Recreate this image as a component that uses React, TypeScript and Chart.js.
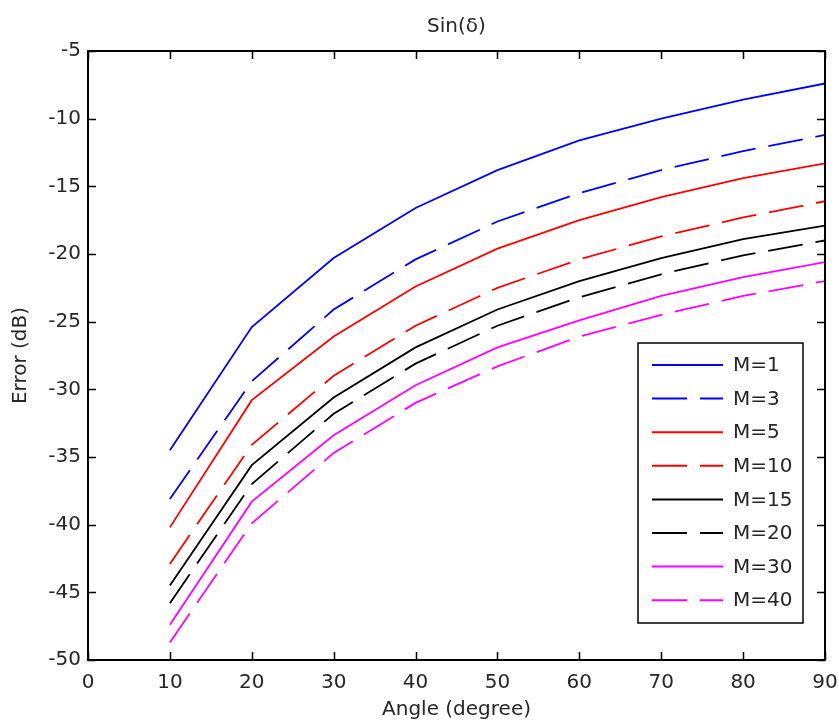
import React, { useEffect, useRef } from "react";
import { Chart, registerables } from "chart.js";

Chart.register(...registerables);

// ---- data ----
const angles = [10, 20, 30, 40, 50, 60, 70, 80, 90];
const m1 = [-34.5, -25.4, -20.3, -16.6, -13.8, -11.6, -10.0, -8.6, -7.4];
const m3 = [-38.1, -29.4, -24.1, -20.4, -17.6, -15.5, -13.8, -12.4, -11.2];
const m5 = [-40.2, -30.8, -26.1, -22.4, -19.6, -17.5, -15.8, -14.4, -13.3];
const m10 = [-42.9, -34.1, -29.0, -25.3, -22.5, -20.4, -18.7, -17.3, -16.1];
const m15 = [-44.5, -35.6, -30.6, -26.9, -24.1, -22.0, -20.3, -18.9, -17.9];
const m20 = [-45.8, -37.0, -31.8, -28.1, -25.3, -23.2, -21.5, -20.1, -19.0];
const m30 = [-47.4, -38.3, -33.4, -29.7, -26.9, -24.9, -23.1, -21.7, -20.6];
const m40 = [-48.7, -39.9, -34.7, -31.0, -28.3, -26.1, -24.5, -23.1, -22.0];

const seriesValues = [m1, m3, m5, m10, m15, m20, m30, m40];
const seriesLabels = ["M=1", "M=3", "M=5", "M=10", "M=15", "M=20", "M=30", "M=40"];
const seriesColors = ["#0000ff", "#0000ff", "#ff0000", "#ff0000", "#000000", "#000000", "#ff00ff", "#ff00ff"];
const seriesDashed = [false, true, false, true, false, true, false, true];

const chartTitle = "Sin(\u03b4)";
const xTitle = "Angle (degree)";
const yTitle = "Error (dB)";
const xMin = 0, xMax = 90, xStep = 10;
const yMin = -50, yMax = -5, yStep = 5;

const FONT = "DejaVu Sans";
const TEXT = "#262626";
const DASH = [35, 13];

const framePlugin = {
  id: "matlabFrame",
  afterDatasetsDraw(chart: any) {
    const { ctx, chartArea: a, scales } = chart;
    const xs = scales.x;
    const ys = scales.y;
    ctx.save();
    ctx.strokeStyle = "#000";
    ctx.lineWidth = 1.5;
    ctx.beginPath();
    const tl = 8;
    xs.ticks.forEach((t: any) => {
      const px = Math.round(xs.getPixelForValue(t.value)) + 0.5;
      ctx.moveTo(px, a.bottom);
      ctx.lineTo(px, a.bottom - tl);
      ctx.moveTo(px, a.top);
      ctx.lineTo(px, a.top + tl);
    });
    ys.ticks.forEach((t: any) => {
      const py = Math.round(ys.getPixelForValue(t.value)) + 0.5;
      ctx.moveTo(a.left, py);
      ctx.lineTo(a.left + tl, py);
      ctx.moveTo(a.right, py);
      ctx.lineTo(a.right - tl, py);
    });
    ctx.stroke();
    ctx.lineWidth = 2;
    ctx.strokeRect(a.left, a.top, a.right - a.left, a.bottom - a.top);

    // legend
    const ds = chart.data.datasets;
    const boxW = 165;
    const boxH = 280;
    const bx = a.right - 22 - boxW;
    const by = a.bottom - 37 - boxH;
    ctx.fillStyle = "#fff";
    ctx.fillRect(bx, by, boxW, boxH);
    ctx.lineWidth = 1.5;
    ctx.strokeStyle = "#000";
    ctx.strokeRect(bx, by, boxW, boxH);
    const step = 33.6;
    ctx.font = `20px "${FONT}"`;
    ctx.textBaseline = "middle";
    ctx.textAlign = "left";
    ds.forEach((d: any, i: number) => {
      const cy = by + 22 + i * step;
      ctx.beginPath();
      ctx.strokeStyle = d.borderColor;
      ctx.lineWidth = 2;
      ctx.setLineDash(d.borderDash || []);
      ctx.moveTo(bx + 14, cy);
      ctx.lineTo(bx + 85, cy);
      ctx.stroke();
      ctx.setLineDash([]);
      ctx.fillStyle = TEXT;
      ctx.fillText(d.label, bx + 95, cy + 1);
    });
    ctx.restore();
  },
};

export default function App() {
  const ref = useRef<HTMLCanvasElement | null>(null);

  useEffect(() => {
    if (!ref.current) return;
    const datasets = seriesValues.map((vals, i) => ({
      label: seriesLabels[i],
      data: angles.map((a, j) => ({ x: a, y: vals[j] })),
      borderColor: seriesColors[i],
      backgroundColor: seriesColors[i],
      borderWidth: 1.8,
      borderDash: seriesDashed[i] ? DASH : [],
      pointRadius: 0,
      tension: 0,
      fill: false,
    }));

    const chart = new Chart(ref.current, {
      type: "line",
      data: { datasets },
      options: {
        animation: false,
        responsive: false,
        maintainAspectRatio: false,
        layout: { padding: { top: 0, right: 14, bottom: 0, left: 0 } },
        plugins: {
          legend: { display: false },
          tooltip: { enabled: false },
          title: { display: false },
        },
        scales: {
          x: {
            type: "linear",
            position: "bottom",
            min: xMin,
            max: xMax,
            grid: { display: false, drawTicks: false },
            border: { display: false },
            ticks: {
              stepSize: xStep,
              color: TEXT,
              font: { family: FONT, size: 20 },
              padding: 11,
              maxRotation: 0,
            },
            title: {
              display: true,
              text: xTitle,
              color: TEXT,
              font: { family: FONT, size: 20 },
              padding: { top: 0, bottom: 4 },
            },
            afterFit: (s: any) => {
              s.height = 66;
              s.paddingLeft = 0;
              s.paddingRight = 0;
            },
          },
          x2: {
            type: "linear",
            position: "top",
            min: xMin,
            max: xMax,
            grid: { display: false, drawTicks: false },
            border: { display: false },
            ticks: { display: false },
            title: {
              display: true,
              text: chartTitle,
              color: TEXT,
              font: { family: FONT, size: 20 },
              padding: { top: 15, bottom: 0 },
            },
            afterFit: (s: any) => {
              s.height = 51;
              s.paddingLeft = 0;
              s.paddingRight = 0;
            },
          },
          y: {
            type: "linear",
            position: "left",
            min: yMin,
            max: yMax,
            grid: { display: false, drawTicks: false },
            border: { display: false },
            ticks: {
              stepSize: yStep,
              color: TEXT,
              font: { family: FONT, size: 20 },
              padding: 7,
            },
            title: {
              display: true,
              text: yTitle,
              color: TEXT,
              font: { family: FONT, size: 20 },
              padding: { top: 9, bottom: 0 },
            },
            afterFit: (s: any) => {
              s.width = 88;
              s.paddingTop = 0;
              s.paddingBottom = 0;
            },
          },
        },
      },
      plugins: [framePlugin],
    } as any);
    return () => chart.destroy();
  }, []);

  return (
    <canvas
      ref={ref}
      width={839}
      height={726}
      style={{ position: "absolute", left: 0, top: 0, width: 839, height: 726, display: "block" }}
    />
  );
}
